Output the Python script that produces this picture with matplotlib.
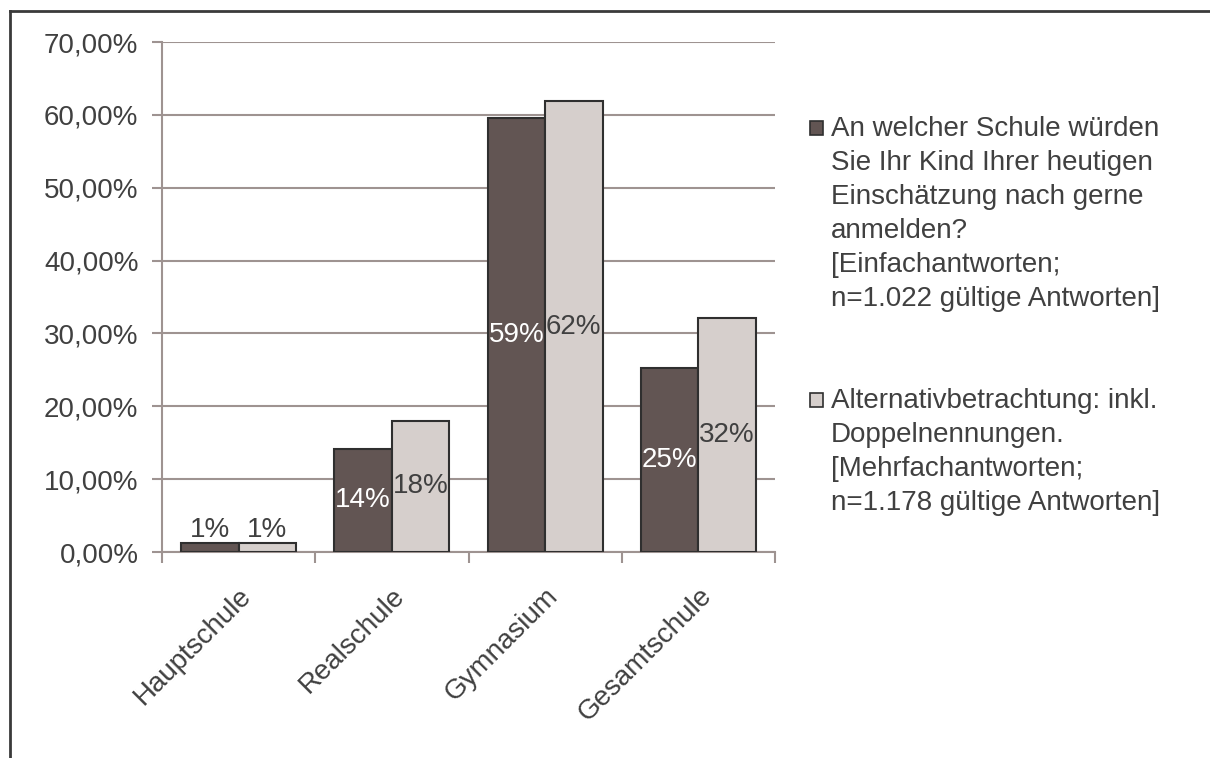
import matplotlib
matplotlib.use("Agg")
import matplotlib.pyplot as plt
from matplotlib.patches import Rectangle
from matplotlib.lines import Line2D
import numpy as np

categories = ["Hauptschule", "Realschule", "Gymnasium", "Gesamtschule"]
einfach = [0.013, 0.142, 0.596, 0.253]
mehrfach = [0.013, 0.180, 0.619, 0.321]
einfach_labels = ["1%", "14%", "59%", "25%"]
mehrfach_labels = ["1%", "18%", "62%", "32%"]
legend_labels = [
    "An welcher Schule würden\nSie Ihr Kind Ihrer heutigen\nEinschätzung nach gerne\nanmelden?\n[Einfachantworten;\nn=1.022 gültige Antworten]",
    "Alternativbetrachtung: inkl.\nDoppelnennungen.\n[Mehrfachantworten;\nn=1.178 gültige Antworten]",
]
yticks = [0.0, 0.1, 0.2, 0.3, 0.4, 0.5, 0.6, 0.7]

plt.rcParams['font.family'] = ['Liberation Sans', 'DejaVu Sans']
TXT = '#404040'
DARK = '#625553'
LIGHT = '#d6cfcc'
EDGE = '#2f2f2f'
GRID = '#9e9391'
FS = 20

W, H = 1210, 758
fig = plt.figure(figsize=(W / 100, H / 100), dpi=100)
ax = fig.add_axes([162 / W, 1 - 552 / H, (775 - 162) / W, (552 - 42) / H])

x = np.arange(len(categories))
bw = 0.375
b1 = ax.bar(x - bw / 2, einfach, bw, color=DARK, edgecolor=EDGE, linewidth=1.5, zorder=3)
b2 = ax.bar(x + bw / 2, mehrfach, bw, color=LIGHT, edgecolor=EDGE, linewidth=1.5, zorder=3)

for bars, labels, col in ((b1, einfach_labels, 'white'), (b2, mehrfach_labels, TXT)):
    for rect, lab in zip(bars, labels):
        h = rect.get_height()
        cx = rect.get_x() + rect.get_width() / 2
        if h < 0.05:
            ax.annotate(lab, (cx, h), xytext=(0, 0), textcoords='offset points',
                        ha='center', va='bottom', fontsize=FS, color=TXT)
        else:
            ax.text(cx, h / 2, lab, ha='center', va='center', fontsize=FS, color=col)

ax.set_xlim(-0.5, len(categories) - 0.5)
ax.set_ylim(0, 0.7)
ax.set_yticks(yticks)
ax.set_yticklabels([f"{v * 100:.2f}%".replace('.', ',') for v in yticks], fontsize=FS, color=TXT)
ax.set_xticks(x)
ax.set_xticklabels(categories, fontsize=FS, color=TXT, rotation=45, ha='right',
                   rotation_mode='anchor')
ax.set_xticks(np.arange(-0.5, len(categories)), minor=True)
ax.tick_params(axis='x', which='major', length=0, pad=22)
ax.tick_params(axis='x', which='minor', length=8, width=1.5, color=GRID, direction='out')
ax.tick_params(axis='y', length=7, width=1.5, color=GRID, pad=10)
ax.yaxis.grid(True, color=GRID, linewidth=1.5, zorder=0)
ax.set_axisbelow(True)
for s in ('top', 'right'):
    ax.spines[s].set_visible(False)
for s in ('left', 'bottom'):
    ax.spines[s].set_color(GRID)
    ax.spines[s].set_linewidth(1.5)

# legend
entries = [(DARK, 128, legend_labels[0]), (LIGHT, 400, legend_labels[1])]
for col, ytop, lab in entries:
    fig.patches.append(Rectangle((810 / W, 1 - (ytop + 7) / H), 13 / W, 14 / H,
                                 transform=fig.transFigure, facecolor=col,
                                 edgecolor=EDGE, linewidth=1.2))
    fig.text(831 / W, 1 - (ytop - 12) / H, lab, fontsize=FS, color=TXT,
             ha='left', va='top', linespacing=1.40)

# outer border (left and top)
fig.add_artist(Line2D([10 / W, 10 / W], [0, 1 - 11 / H], transform=fig.transFigure,
                      color='#3a3a3a', linewidth=2))
fig.add_artist(Line2D([10 / W, 1], [1 - 11 / H, 1 - 11 / H], transform=fig.transFigure,
                      color='#3a3a3a', linewidth=2))

fig.savefig('out.png', dpi=100)
